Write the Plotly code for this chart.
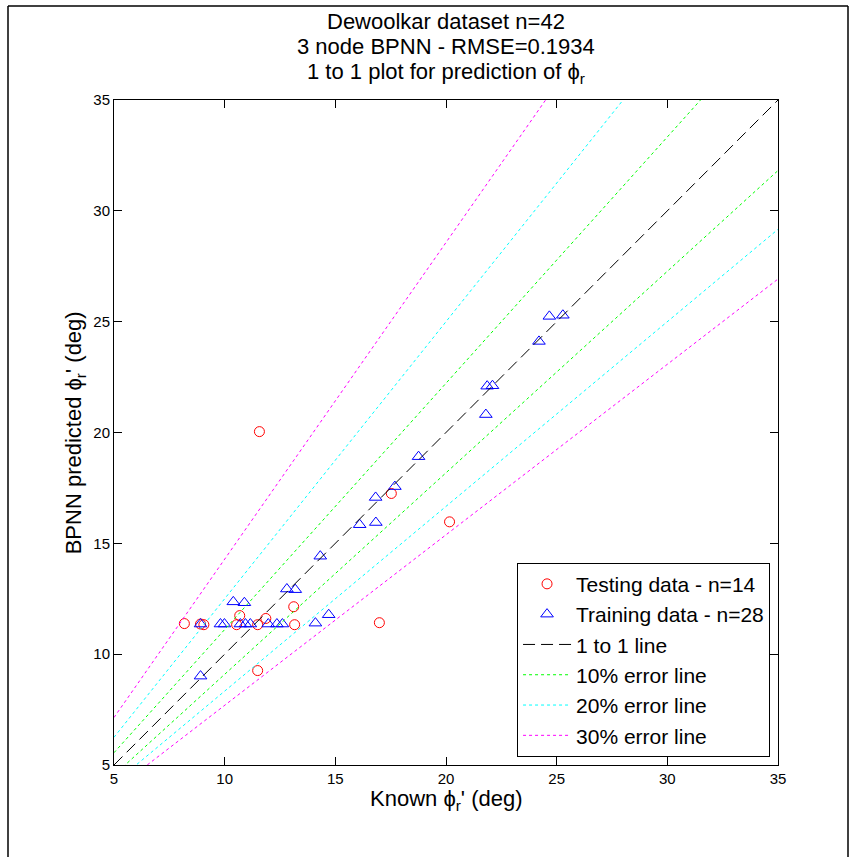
import plotly.graph_objects as go

# Testing data (known vs BPNN-predicted residual friction angle, deg)
test_known = [8.18, 9.06, 8.91, 10.54, 10.68, 11.49, 11.86, 13.12, 13.16,
              16.99, 11.49, 11.57, 17.53, 20.16]
test_pred = [11.38, 11.33, 11.36, 11.33, 11.74, 11.33, 11.61, 12.14, 11.33,
             11.42, 9.26, 20.04, 17.25, 15.97]

# Training data
train_known = [8.91, 8.91, 9.81, 9.99, 10.39, 10.89, 10.71, 10.94, 11.16,
               11.97, 12.36, 12.61, 12.81, 13.19, 14.10, 14.70, 14.32, 16.10,
               16.83, 16.82, 17.69, 18.76, 21.80, 21.86, 22.10, 24.20, 24.67,
               25.28]
train_pred = [9.01, 11.36, 11.36, 11.36, 12.36, 12.32, 11.36, 11.36, 11.36,
              11.36, 11.36, 11.36, 12.94, 12.91, 11.40, 11.78, 14.42, 15.84,
              15.94, 17.07, 17.56, 18.91, 20.81, 22.09, 22.11, 24.11, 25.24,
              25.29]

axis_range = [5, 35]
ticks = [5, 10, 15, 20, 25, 30, 35]
error_levels = [0.10, 0.20, 0.30]
error_colors = ["rgb(0,255,0)", "rgb(0,255,255)", "rgb(255,0,255)"]

PHI = "\u03d5"
FONT = "Arial, Liberation Sans, sans-serif"

fig = go.Figure()

fig.add_trace(go.Scatter(
    x=test_known, y=test_pred, mode="markers",
    name="Testing data - n=14",
    marker=dict(symbol="circle-open", size=10, color="red", line=dict(width=1)),
))
fig.add_trace(go.Scatter(
    x=train_known, y=train_pred, mode="markers",
    name="Training data - n=28",
    marker=dict(symbol="triangle-up-open", size=11, color="blue", line=dict(width=1)),
))

# 1:1 reference line
fig.add_trace(go.Scatter(
    x=axis_range, y=axis_range, mode="lines", name="1 to 1 line",
    line=dict(color="black", width=1, dash="12px,6px"),
))

# error envelopes: upper y = x/(1-e), lower y = x/(1+e)
for e, col in zip(error_levels, error_colors):
    label = f"{int(round(e * 100))}% error line"
    fig.add_trace(go.Scatter(
        x=axis_range, y=[v / (1 - e) for v in axis_range], mode="lines",
        name=label, legendgroup=label,
        line=dict(color=col, width=1, dash="3px,3px"),
    ))
    fig.add_trace(go.Scatter(
        x=axis_range, y=[v / (1 + e) for v in axis_range], mode="lines",
        name=label, legendgroup=label, showlegend=False,
        line=dict(color=col, width=1, dash="3px,3px"),
    ))

axis_common = dict(
    range=axis_range, tickvals=ticks, ticks="inside", ticklen=8,
    tickcolor="black", showline=True, linecolor="black", linewidth=1,
    mirror="allticks", showgrid=False, zeroline=False,
    tickfont=dict(family=FONT, size=15, color="black"),
)

fig.update_layout(
    width=854, height=857,
    margin=dict(l=114, r=76, t=100, b=92),
    paper_bgcolor="white", plot_bgcolor="white",
    xaxis=axis_common, yaxis=axis_common,
    showlegend=True,
    legend=dict(
        x=0.988, y=0.0125, xanchor="right", yanchor="bottom",
        bgcolor="white", bordercolor="black", borderwidth=1,
        font=dict(family=FONT, size=21, color="black"),
        itemwidth=48, tracegroupgap=0,
    ),
)

title_lines = [
    "Dewoolkar dataset n=42",
    "3 node BPNN - RMSE=0.1934",
    f"1 to 1 plot for prediction of {PHI}<sub>r</sub>",
]
title_y = [1.1173, 1.0797, 1.0406]
for txt, ty in zip(title_lines, title_y):
    fig.add_annotation(
        text=txt, xref="paper", yref="paper", x=0.5, y=ty,
        xanchor="center", yanchor="middle", showarrow=False,
        font=dict(family=FONT, size=22, color="black"),
    )

fig.add_annotation(
    text=f"Known {PHI}<sub>r</sub>' (deg)", xref="paper", yref="paper",
    x=0.5, y=-0.053, xanchor="center", yanchor="middle", showarrow=False,
    font=dict(family=FONT, size=22, color="black"),
)
fig.add_annotation(
    text=f"BPNN predicted {PHI}<sub>r</sub>' (deg)", xref="paper", yref="paper",
    x=-0.059, y=0.5, xanchor="center", yanchor="middle", showarrow=False,
    textangle=-90, font=dict(family=FONT, size=22, color="black"),
)

# figure border (left, top, right)
px2x = lambda px: (px - 114) / 664
py2y = lambda py: (765 - py) / 665
for x0, y0, x1, y1 in [(8, 6, 8, 857), (8, 6, 848, 6), (848, 6, 848, 857)]:
    fig.add_shape(type="line", xref="paper", yref="paper",
                  x0=px2x(x0), y0=py2y(y0), x1=px2x(x1), y1=py2y(y1),
                  line=dict(color="black", width=1.5))

fig.write_html("out.html")
